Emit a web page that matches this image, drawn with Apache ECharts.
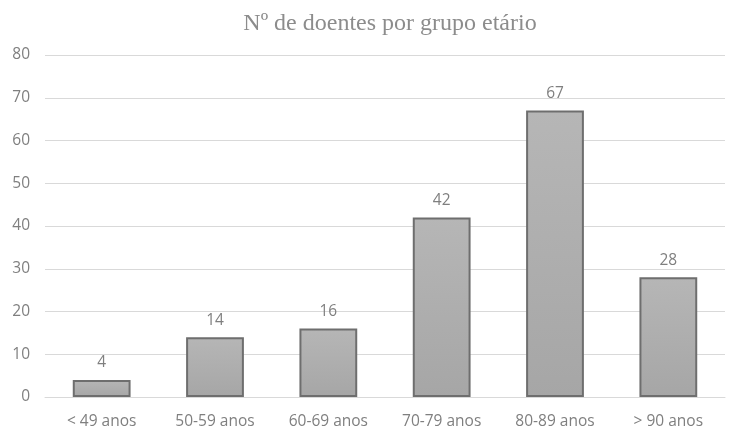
<!DOCTYPE html>
<html><head><meta charset="utf-8">
<script src="https://cdn.jsdelivr.net/npm/echarts@6/dist/echarts.min.js"></script>
<style>html,body{margin:0;padding:0;background:#fff}#c{width:739px;height:431px}</style>
</head><body><div id="c"></div>
<script>
const titleText = 'Nº de doentes por grupo etário';
const categories = ['< 49 anos', '50-59 anos', '60-69 anos', '70-79 anos', '80-89 anos', '> 90 anos'];
const values = [4, 14, 16, 42, 67, 28];
const yTicks = {min: 0, max: 80, interval: 10};

const chart = echarts.init(document.getElementById('c'), null, {renderer: 'canvas'});
chart.setOption({
  animation: false,
  backgroundColor: '#ffffff',
  title: {
    text: titleText, left: 385, textAlign: 'center', top: 7,
    textStyle: {fontFamily: 'Liberation Serif', fontWeight: 'normal', fontSize: 24, color: '#8c8c8c'}
  },
  grid: {left: 45, right: 14, top: 55, bottom: 34, containLabel: false},
  xAxis: {
    type: 'category', data: categories,
    axisLine: {show: true, lineStyle: {color: '#d9d9d9', width: 1}},
    axisTick: {show: false},
    axisLabel: {color: '#7f7f7f', fontFamily: 'Open Sans', fontSize: 15.5, margin: 17}
  },
  yAxis: {
    type: 'value', min: yTicks.min, max: yTicks.max, interval: yTicks.interval,
    axisLine: {show: false}, axisTick: {show: false},
    splitLine: {lineStyle: {color: '#d9d9d9', width: 1}},
    axisLabel: {color: '#7f7f7f', fontFamily: 'Open Sans', fontSize: 15.5, margin: 15}
  },
  series: [{
    type: 'bar', data: values, barWidth: '51%',
    itemStyle: {
      color: new echarts.graphic.LinearGradient(0, 0, 0, 1, [
        {offset: 0, color: '#b6b6b6'}, {offset: 1, color: '#a6a6a6'}
      ]),
      borderColor: '#6e6e6e', borderWidth: 2
    },
    label: {show: true, position: 'top', distance: 9, color: '#7f7f7f', fontFamily: 'Open Sans', fontSize: 15.5}
  }]
});
</script></body></html>
